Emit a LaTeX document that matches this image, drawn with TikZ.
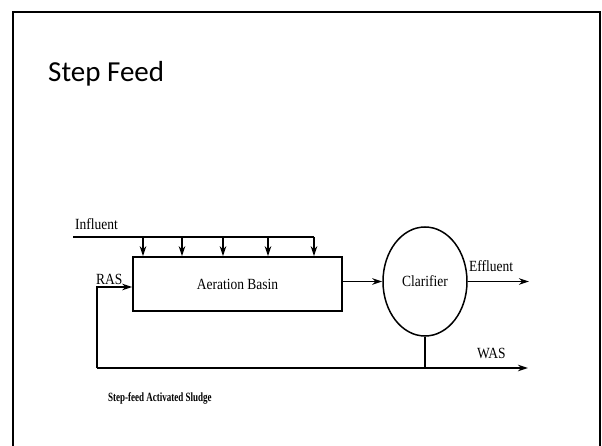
\documentclass[tikz,border=0pt]{standalone}
\usepackage{fontspec}
\setmainfont{Liberation Serif}
\newfontfamily\titlefont{Carlito}
\usetikzlibrary{arrows.meta,shapes.geometric}
\newcommand{\lblstretch}[2][1.15]{\scalebox{1}[#1]{#2}}

\begin{document}
\begin{tikzpicture}[x=1pt,y=-1pt,
    flow/.style={line width=1.5pt},
    arr/.style={flow,-{Stealth[length=10pt,width=6.5pt]}},
    lbl/.style={font=\fontsize{13.5}{15}\selectfont, inner sep=0pt}]
  \useasboundingbox (0,0) rectangle (602,446);
  % slide frame
  \draw[line width=2pt] (13,446) -- (13,12) -- (600,12) -- (600,446);
  \node[anchor=base west, inner sep=0pt, font=\titlefont\fontsize{29}{33}\selectfont] (title) at (48,82) {Step Feed};
  % units
  \node[draw, flow, lbl, minimum width=209pt, minimum height=54pt] (basin) at (237.5,284) {\lblstretch{Aeration Basin}};
  \node[draw, flow, lbl, ellipse, minimum width=84pt, minimum height=109pt] (clar) at (425,281.5) {\lblstretch{Clarifier}};
  % influent fed in steps
  \coordinate (inf) at (73,237);
  \coordinate (infend) at (314,237);
  \draw[flow] (inf) -- (infend);
  \node[lbl, anchor=base west] (inflbl) at (75,230) {\lblstretch{Influent}};
  \foreach \x [count=\i] in {143,182,223,268,314} {
    \coordinate (f\i) at (\x,237);
    \draw[arr] (f\i) -- (f\i |- basin.north);
  }
  % main flow
  \coordinate (eff) at (529,281.5);
  \draw[arr] (basin.east |- clar.west) -- (clar.west);
  \draw[arr] (clar.east) -- (eff);
  \node[lbl, anchor=base west] (efflbl) at (469,272) {\lblstretch{Effluent}};
  % sludge return and wasting
  \coordinate (ras) at (97,368);
  \coordinate (was) at (528,368);
  \coordinate (rasup) at (97,287);
  \draw[flow] (clar.south) -- (clar.south |- was);
  \draw[arr] (ras) -- (was);
  \draw[arr] (ras) -- (rasup) -- (rasup -| basin.west);
  \node[lbl, anchor=base west] (raslbl) at (96,284) {\lblstretch{RAS}};
  \node[lbl, anchor=base west] (waslbl) at (477,358) {\lblstretch{WAS}};
  \node[anchor=base west, inner sep=0pt, font=\bfseries\fontsize{9}{10}\selectfont] (caption) at (108,401) {\lblstretch[1.4]{Step-feed Activated Sludge}};
\end{tikzpicture}
\end{document}
